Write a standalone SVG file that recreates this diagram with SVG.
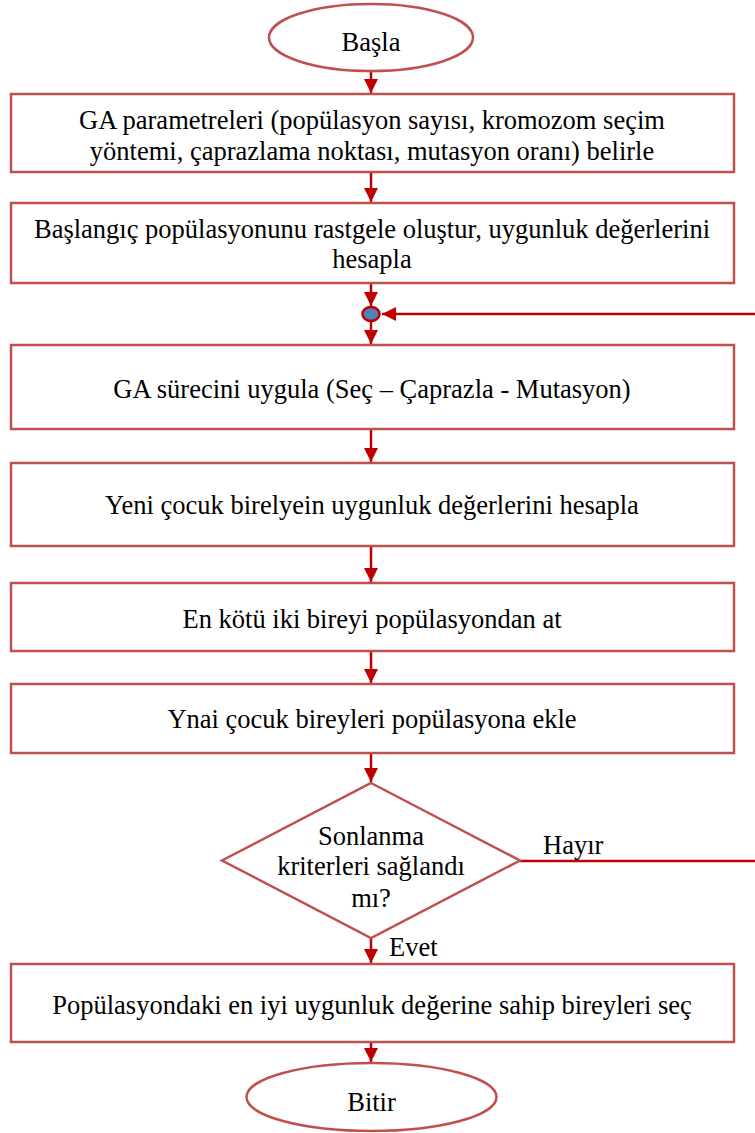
<svg xmlns="http://www.w3.org/2000/svg" width="755" height="1133" viewBox="0 0 755 1133">
<style>
.n{fill:#fff;stroke:#C0504D;stroke-width:2.5}
.t{font-family:'Liberation Serif','Times New Roman',Tinos,'DejaVu Serif',serif;font-size:26.5px;fill:#000;text-anchor:middle}
.l{font-family:'Liberation Serif','Times New Roman',Tinos,'DejaVu Serif',serif;font-size:26.5px;fill:#000}
.c{stroke:#C00000;stroke-width:2.5;fill:none}
</style>
<defs>
<marker id="ah" markerUnits="userSpaceOnUse" markerWidth="16" markerHeight="16" refX="14" refY="7" orient="auto">
<path d="M0,0 L14,7 L0,14 Z" fill="#C00000"/>
</marker>
</defs>
<rect width="755" height="1133" fill="#fff"/>
<g id="connectors">
<line class="c" x1="371" y1="71" x2="371" y2="93" marker-end="url(#ah)"/>
<line class="c" x1="371" y1="172" x2="371" y2="202" marker-end="url(#ah)"/>
<line class="c" x1="371" y1="283" x2="371" y2="306" marker-end="url(#ah)"/>
<line class="c" x1="371" y1="322" x2="371" y2="344" marker-end="url(#ah)"/>
<line class="c" x1="371" y1="429" x2="371" y2="462" marker-end="url(#ah)"/>
<line class="c" x1="371" y1="546" x2="371" y2="582" marker-end="url(#ah)"/>
<line class="c" x1="371" y1="651" x2="371" y2="683" marker-end="url(#ah)"/>
<line class="c" x1="371" y1="753" x2="371" y2="782" marker-end="url(#ah)"/>
<line class="c" x1="371" y1="938" x2="371" y2="963" marker-end="url(#ah)"/>
<line class="c" x1="371" y1="1042" x2="371" y2="1062" marker-end="url(#ah)"/>
<line class="c" x1="520" y1="861" x2="755" y2="861"/>
<line class="c" x1="755" y1="314" x2="382" y2="314" marker-end="url(#ah)"/>
<text class="l" x="543" y="854">Hayır</text>
<text class="l" x="389" y="956">Evet</text>
</g>
<g id="start">
<ellipse class="n" cx="371" cy="37.5" rx="102" ry="33.5"/>
<text class="t" x="371" y="51">Başla</text>
</g>
<g id="params">
<rect class="n" x="11" y="94" width="723" height="78"/>
<text class="t" x="372" y="129">GA parametreleri (popülasyon sayısı, kromozom seçim</text>
<text class="t" x="372" y="160">yöntemi, çaprazlama noktası, mutasyon oranı) belirle</text>
</g>
<g id="init">
<rect class="n" x="11" y="203" width="723" height="80"/>
<text class="t" x="372" y="238">Başlangıç popülasyonunu rastgele oluştur, uygunluk değerlerini</text>
<text class="t" x="372" y="268">hesapla</text>
</g>
<g id="junction">
<ellipse cx="371" cy="314" rx="8.5" ry="7" fill="#4F81BD" stroke="#C00000" stroke-width="2.5"/>
</g>
<g id="apply">
<rect class="n" x="11" y="345" width="723" height="84"/>
<text class="t" x="372" y="398">GA sürecini uygula (Seç – Çaprazla - Mutasyon)</text>
</g>
<g id="evaluate">
<rect class="n" x="11" y="463" width="723" height="83"/>
<text class="t" x="372" y="514">Yeni çocuk birelyein uygunluk değerlerini hesapla</text>
</g>
<g id="remove">
<rect class="n" x="11" y="583" width="723" height="68"/>
<text class="t" x="372" y="628">En kötü iki bireyi popülasyondan at</text>
</g>
<g id="add">
<rect class="n" x="11" y="684" width="723" height="69"/>
<text class="t" x="372" y="728">Ynai çocuk bireyleri popülasyona ekle</text>
</g>
<g id="decision">
<polygon class="n" points="371,783 520,860.5 371,938 222,860.5"/>
<text class="t" x="371" y="845">Sonlanma</text>
<text class="t" x="371" y="875">kriterleri sağlandı</text>
<text class="t" x="371" y="907">mı?</text>
</g>
<g id="select">
<rect class="n" x="11" y="964" width="723" height="78"/>
<text class="t" x="372" y="1014">Popülasyondaki en iyi uygunluk değerine sahip bireyleri seç</text>
</g>
<g id="end">
<ellipse class="n" cx="371.5" cy="1097" rx="125" ry="34"/>
<text class="t" x="371.5" y="1111">Bitir</text>
</g>
</svg>
